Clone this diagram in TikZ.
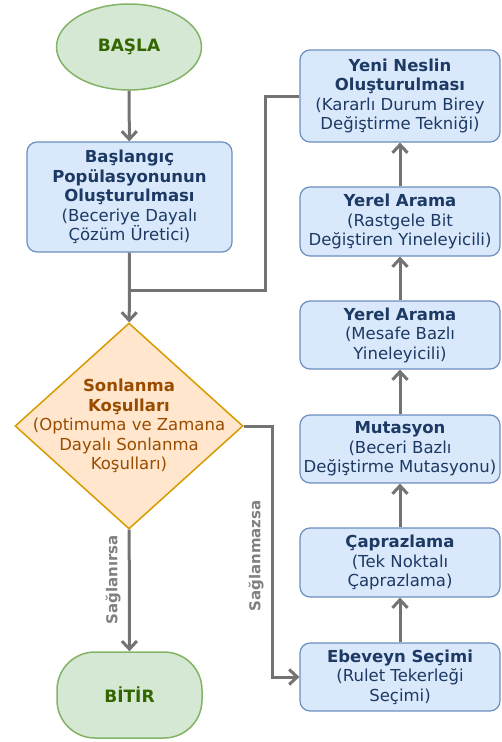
\documentclass[tikz,border=0pt]{standalone}
\usepackage{fontspec}
\setmainfont{DejaVu Sans}
\usetikzlibrary{shapes.geometric,arrows.meta}
\definecolor{yesilic}{HTML}{D5E8D4}
\definecolor{yesilcizgi}{HTML}{82B366}
\definecolor{yesilyazi}{HTML}{336600}
\definecolor{maviic}{HTML}{DAE8FC}
\definecolor{mavicizgi}{HTML}{6C8EBF}
\definecolor{maviyazi}{HTML}{1C3A63}
\definecolor{turuncuic}{HTML}{FFE6CC}
\definecolor{turuncucizgi}{HTML}{D79B00}
\definecolor{kahveyazi}{HTML}{994C00}
\definecolor{okgri}{HTML}{737373}
\definecolor{etiketgri}{HTML}{808080}

\begin{document}
\begin{tikzpicture}[x=1pt,y=-1pt,
    every node/.style={font=\fontsize{16.5}{19.5}\selectfont, align=center, inner sep=0pt},
    uc/.style={draw=yesilcizgi, fill=yesilic, text=yesilyazi, line width=1.5pt,
      minimum width=145pt, minimum height=86pt, font=\fontsize{17}{20}\selectfont\bfseries},
    islem/.style={draw=mavicizgi, fill=maviic, text=maviyazi, line width=1.2pt,
      rounded corners=10pt, minimum width=200pt},
    karar/.style={diamond, draw=turuncucizgi, fill=turuncuic, line width=1.5pt,
      minimum width=228pt, minimum height=206pt},
    yol/.style={draw=okgri, line width=3pt},
    ok/.style={yol, -{Straight Barb[length=8pt,width=15pt]}},
    etiket/.style={text=etiketgri, rotate=90, font=\fontsize{15}{18}\selectfont\bfseries}]
  \useasboundingbox (0,0) rectangle (501,742);

  % sol sutun
  \node[uc, ellipse] (basla) at (129,47) {BAŞLA};
  \node[islem, minimum width=205pt, minimum height=110pt] (baslangic) at (129.5,197)
    {\textbf{Başlangıç}\\\textbf{Popülasyonunun}\\\textbf{Oluşturulması}\\(Beceriye Dayalı\\Çözüm Üretici)};
  \node[karar] (kosul) at (129,426) {};
  \node[text=kahveyazi] at (kosul) {\textbf{Sonlanma}\\\textbf{Koşulları}\\(Optimuma ve Zamana\\Dayalı Sonlanma\\Koşulları)};
  \node[uc, rectangle, rounded corners=38pt] (bitir) at (129.5,695) {BİTİR};

  % sag sutun
  \node[islem, minimum height=92pt] (yeni) at (400,96)
    {\textbf{Yeni Neslin}\\\textbf{Oluşturulması}\\(Kararlı Durum Birey\\Değiştirme Tekniği)};
  \node[islem, minimum height=69pt] (rastgele) at (400,221.5)
    {\textbf{Yerel Arama}\\(Rastgele Bit\\Değiştiren Yineleyicili)};
  \node[islem, minimum height=68pt] (mesafe) at (400,335)
    {\textbf{Yerel Arama}\\(Mesafe Bazlı\\Yineleyicili)};
  \node[islem, minimum height=68pt] (mutasyon) at (400,449)
    {\textbf{Mutasyon}\\(Beceri Bazlı\\Değiştirme Mutasyonu)};
  \node[islem, minimum height=69pt] (caprazlama) at (400,562.5)
    {\textbf{Çaprazlama}\\(Tek Noktalı\\Çaprazlama)};
  \node[islem, minimum height=68pt] (ebeveyn) at (400,677)
    {\textbf{Ebeveyn Seçimi}\\(Rulet Tekerleği\\Seçimi)};

  \coordinate (donus) at (265,290);
  \coordinate (birles) at (129,290);
  \coordinate (sapma) at (272,677);

  % baglantilar
  \draw[ok] (basla) -- (baslangic);
  \draw[ok] (baslangic) -- (kosul);
  \draw[yol] (yeni.west) -| (donus) -- (birles);
  \draw[ok] (kosul) -- (bitir);
  \draw[ok] (kosul.east) -| (sapma) -- (ebeveyn.west);
  \draw[ok] (ebeveyn) -- (caprazlama);
  \draw[ok] (caprazlama) -- (mutasyon);
  \draw[ok] (mutasyon) -- (mesafe);
  \draw[ok] (mesafe) -- (rastgele);
  \draw[ok] (rastgele) -- (yeni);

  \node[etiket] (saglanirsa) at (113,580) {Sağlanırsa};
  \node[etiket] (saglanmazsa) at (256,556) {Sağlanmazsa};
\end{tikzpicture}
\end{document}
